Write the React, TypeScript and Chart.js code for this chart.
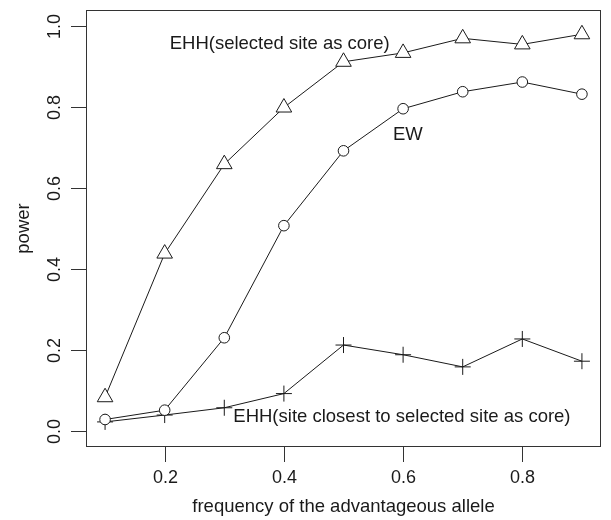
import React, { useEffect, useRef } from "react";
import { Chart, registerables } from "chart.js";

Chart.register(...registerables);

const freqs = [0.1, 0.2, 0.3, 0.4, 0.5, 0.6, 0.7, 0.8, 0.9];
const ehhSelected = [0.083, 0.438, 0.659, 0.799, 0.912, 0.934, 0.97, 0.955, 0.98];
const ewValues = [0.028, 0.051, 0.23, 0.507, 0.692, 0.796, 0.838, 0.862, 0.832];
const ehhClosest = [0.022, 0.039, 0.057, 0.092, 0.212, 0.188, 0.158, 0.227, 0.172];
const xTicks = [0.2, 0.4, 0.6, 0.8];
const yTicks = [0.0, 0.2, 0.4, 0.6, 0.8, 1.0];
const xTitle = "frequency of the advantageous allele";
const yTitle = "power";
const labels = [
  { text: "EHH(selected site as core)", x: 0.393, y: 0.956 },
  { text: "EW", x: 0.608, y: 0.732 },
  { text: "EHH(site closest to selected site as core)", x: 0.598, y: 0.034 },
];

const FONT = "'Liberation Sans', Arial, Helvetica, sans-serif";
const INK = "#1a1a1a";

const rPlot = {
  id: "rPlot",
  afterDraw(chart: any) {
    const ctx = chart.ctx;
    const a = chart.chartArea;
    const xs = chart.scales.x;
    const ys = chart.scales.y;
    ctx.save();
    ctx.strokeStyle = "#333";
    ctx.lineWidth = 1;
    ctx.strokeRect(a.left + 0.5, a.top + 0.5, a.right - a.left - 1, a.bottom - a.top - 1);
    ctx.fillStyle = INK;
    ctx.font = `18px ${FONT}`;
    ctx.textAlign = "center";
    ctx.textBaseline = "middle";
    for (const t of xTicks) {
      const px = Math.round(xs.getPixelForValue(t)) + 0.5;
      ctx.beginPath();
      ctx.moveTo(px, a.bottom);
      ctx.lineTo(px, a.bottom + 15);
      ctx.stroke();
      ctx.fillText(t.toFixed(1), px, 478);
    }
    for (const t of yTicks) {
      const py = Math.round(ys.getPixelForValue(t)) + 0.5;
      ctx.beginPath();
      ctx.moveTo(a.left, py);
      ctx.lineTo(a.left - 15, py);
      ctx.stroke();
      ctx.save();
      ctx.translate(55, py);
      ctx.rotate(-Math.PI / 2);
      ctx.fillText(t.toFixed(1), 0, 0);
      ctx.restore();
    }
    ctx.font = `18.5px ${FONT}`;
    ctx.fillText(xTitle, (a.left + a.right) / 2, 507);
    ctx.save();
    ctx.translate(24, (a.top + a.bottom) / 2);
    ctx.rotate(-Math.PI / 2);
    ctx.fillText(yTitle, 0, 0);
    ctx.restore();
    for (const l of labels) {
      ctx.fillText(l.text, xs.getPixelForValue(l.x), ys.getPixelForValue(l.y));
    }
    ctx.restore();
  },
};

function mk(values: number[], style: string, radius: number) {
  return {
    data: freqs.map((f, i) => ({ x: f, y: values[i] })),
    borderColor: INK,
    borderWidth: 1,
    pointStyle: style,
    pointRadius: radius,
    pointBorderColor: INK,
    pointBorderWidth: 1,
    pointBackgroundColor: style === "cross" ? INK : "#ffffff",
    showLine: true,
    tension: 0,
    fill: false,
  };
}

export default function App() {
  const ref = useRef<HTMLCanvasElement | null>(null);
  useEffect(() => {
    if (!ref.current) return;
    const chart = new Chart(ref.current, {
      type: "scatter",
      data: {
        datasets: [
          mk(ehhSelected, "triangle", 9),
          mk(ewValues, "circle", 5.3),
          mk(ehhClosest, "cross", 8),
        ] as any,
      },
      options: {
        animation: false,
        responsive: false,
        devicePixelRatio: 1,
        layout: { padding: { left: 86, top: 8, right: 2, bottom: 73 } },
        plugins: { legend: { display: false }, tooltip: { enabled: false } },
        scales: {
          x: { type: "linear", min: 0.068, max: 0.932, display: false },
          y: { type: "linear", min: -0.04, max: 1.04, display: false },
        },
        clip: false,
      } as any,
      plugins: [rPlot],
    });
    return () => chart.destroy();
  }, []);
  return (
    <div style={{ position: "absolute", left: 0, top: 0, width: 611, height: 520, background: "#fff" }}>
      <canvas ref={ref} width={611} height={520} />
    </div>
  );
}
